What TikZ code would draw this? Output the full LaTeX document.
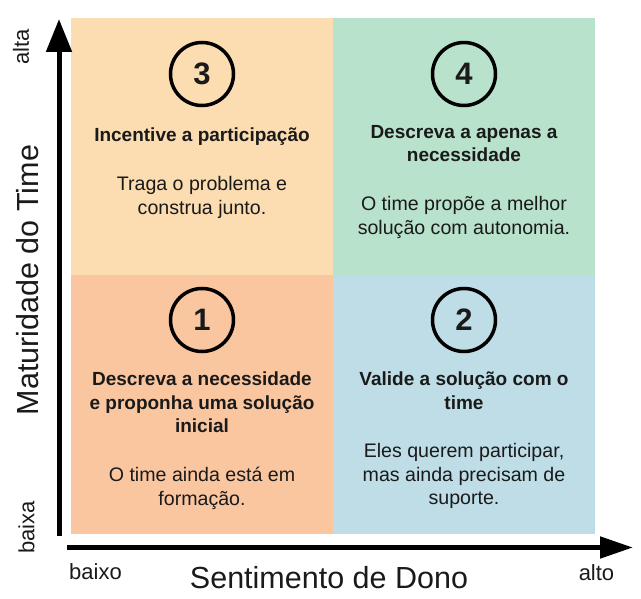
\documentclass[tikz,border=0pt]{standalone}
\usepackage{fontspec}
\setmainfont{Liberation Sans}
\usetikzlibrary{positioning, arrows.meta}

\definecolor{peach}{HTML}{FCDCB1}
\definecolor{salmon}{HTML}{FAC6A0}
\definecolor{mint}{HTML}{B8E2CC}
\definecolor{skyblue}{HTML}{BEDDE7}
\definecolor{ink}{HTML}{1A1A1A}

\begin{document}
\begin{tikzpicture}[x=1pt, y=-1pt,
        quad/.style={rectangle, inner sep=0, outer sep=0, minimum width=262pt, minimum height=258pt},
        num/.style={draw=black, circle, line width=3.5pt, minimum size=63pt, inner sep=0,
            text=ink, font=\fontsize{31}{31}\selectfont\bfseries},
        title/.style={align=center, inner sep=0, text=ink,
            font=\fontsize{19}{23.5}\selectfont\bfseries,
            execute at begin node=\strut, execute at end node=\strut},
        desc/.style={align=center, inner sep=0, text=ink,
            font=\fontsize{19.6}{23.5}\selectfont,
            execute at begin node=\strut, execute at end node=\strut},
        axis/.style={line width=5pt, draw=black},
        axislabel/.style={text=ink, font=\fontsize{30.5}{31}\selectfont},
        endlabel/.style={text=ink, font=\fontsize{22}{23}\selectfont}]
    \useasboundingbox (0,0) rectangle (641,599);

    % quadrants
    \node [quad, fill=peach] (q3) at (202,147) {};
    \node [quad, fill=mint] (q4) at (463.5,147) {};
    \node [quad, fill=salmon] (q1) at (202,404.5) {};
    \node [quad, fill=skyblue] (q2) at (463.5,404.5) {};

    \node [num] (n3) at (202,74) {3};
    \node [num] (n4) at (464,74) {4};
    \node [num] (n1) at (202,320) {1};
    \node [num] (n2) at (464,320) {2};

    \node [title, below=17.5pt of n3] (t3) {Incentive a participação};
    \node [title, below=17.5pt of n4] (t4) {Descreva a apenas a\\necessidade};
    \node [title, below=18.5pt of n1] (t1) {Descreva a necessidade\\e proponha uma solução\\inicial};
    \node [title, below=18.5pt of n2] (t2) {Valide a solução com o\\time};

    \node [desc, below=27.5pt of t3] (d3) {Traga o problema e\\construa junto.};
    \node [desc, below=27.5pt of t4] (d4) {O time propõe a melhor\\solução com autonomia.};
    \node [desc, below=27pt of t1] (d1) {O time ainda está em\\formação.};
    \node [desc, below=27pt of t2] (d2) {Eles querem participar,\\mas ainda precisam de\\suporte.};

    % axes
    \coordinate (yo) at (59,536);
    \coordinate (yt) at (59,19);
    \coordinate (xo) at (67,547.5);
    \coordinate (xt) at (633,547.5);
    \draw [axis, -{Triangle[length=33pt, width=25pt]}] (yo) -- (yt);
    \draw [axis, -{Triangle[length=33pt, width=21pt]}] (xo) -- (xt);

    \node [axislabel, rotate=90, anchor=base] (ylab) at (38.8,280) {Maturidade do Time};
    \node [endlabel, rotate=90, anchor=base] (yhi) at (28.8,46.5) {alta};
    \node [endlabel, rotate=90, anchor=base] (ylo) at (34.3,527.5) {baixa};
    \node [axislabel, anchor=base] (xlab) at (329,588.8) {Sentimento de Dono};
    \node [endlabel, anchor=base] (xlo) at (95.5,579.8) {baixo};
    \node [endlabel, anchor=base] (xhi) at (596.5,580.3) {alto};
\end{tikzpicture}
\end{document}
